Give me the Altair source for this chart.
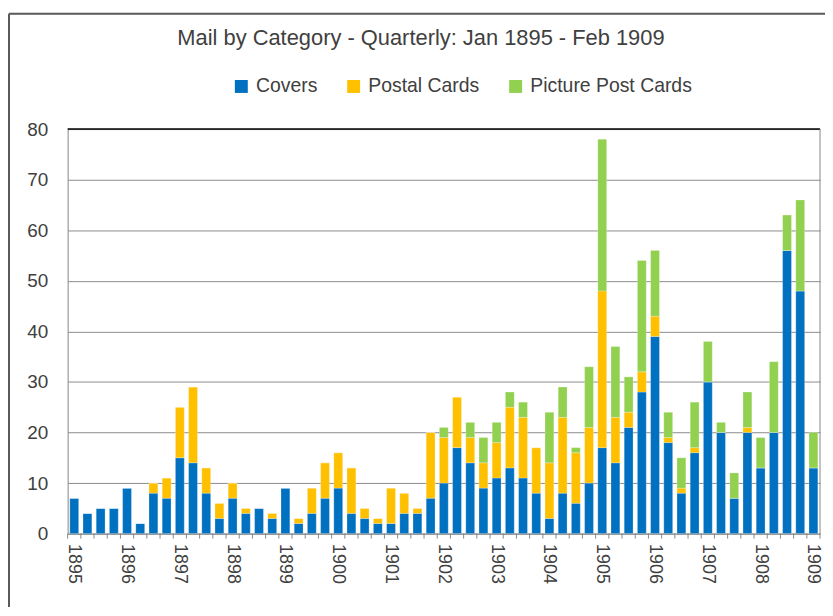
import altair as alt
import pandas as pd

# ---- data (quarterly, Jan 1895 - Q1 1909) ----
years = list(range(1895, 1910))
quarters = ["Q1", "Q2", "Q3", "Q4"]

covers = [7, 4, 5, 5, 9, 2, 8, 7, 15, 14, 8, 3, 7, 4, 5, 3,
          9, 2, 4, 7, 9, 4, 3, 2, 2, 4, 4, 7, 10, 17, 14, 9,
          11, 13, 11, 8, 3, 8, 6, 10, 17, 14, 21, 28, 39, 18, 8, 16,
          30, 20, 7, 20, 13, 20, 56, 48, 13]
postal_cards = [0, 0, 0, 0, 0, 0, 2, 4, 10, 15, 5, 3, 3, 1, 0, 1,
                0, 1, 5, 7, 7, 9, 2, 1, 7, 4, 1, 13, 9, 10, 5, 5,
                7, 12, 12, 9, 11, 15, 10, 11, 31, 9, 3, 4, 4, 1, 1, 1,
                0, 0, 0, 1, 0, 0, 0, 0, 0]
picture_post_cards = [0, 0, 0, 0, 0, 0, 0, 0, 0, 0, 0, 0, 0, 0, 0, 0,
                      0, 0, 0, 0, 0, 0, 0, 0, 0, 0, 0, 0, 2, 0, 3, 5,
                      4, 3, 3, 0, 10, 6, 1, 12, 30, 14, 7, 22, 13, 5, 6, 9,
                      8, 2, 5, 7, 6, 14, 7, 18, 7]

series_names = ["Covers", "Postal Cards", "Picture Post Cards"]
series_colors = ["#0070C0", "#FFC000", "#92D050"]

periods = [f"{y} {q}" for y in years for q in quarters][:len(covers)]

rows = []
for k, (name, vals) in enumerate(zip(series_names, [covers, postal_cards, picture_post_cards])):
    for p, v in zip(periods, vals):
        rows.append({"period": p, "series": name, "amount": v, "ord": k})
df = pd.DataFrame(rows)
period_df = pd.DataFrame({"period": periods})

FONT = "Liberation Sans"
TXT = "#404040"
W, H = 757, 407

x_scale = alt.Scale(paddingInner=0, paddingOuter=0)

bars = alt.Chart(df).mark_bar(width=alt.RelativeBandSize(0.67),
                              stroke="white", strokeWidth=0.4, strokeOpacity=0.6).encode(
    x=alt.X("period:N", sort=periods, scale=x_scale,
            axis=alt.Axis(title=None, labelAngle=90, labelFontSize=18, labelFont=FONT,
                          labelColor=TXT, labelPadding=10, labelOverlap=False,
                          labelExpr="indexof(datum.value, 'Q1') >= 0 ? substring(datum.value, 0, 4) : ''",
                          ticks=False, domainColor="#868686", grid=False)),
    y=alt.Y("amount:Q", stack="zero",
            scale=alt.Scale(domain=[0, 80], nice=False),
            axis=alt.Axis(title=None, values=list(range(0, 81, 10)), labelFontSize=19,
                          labelFont=FONT, labelColor=TXT, labelPadding=20, ticks=False,
                          domainColor="#868686", gridColor="#8c8c8c", grid=True)),
    color=alt.Color("series:N", sort=series_names,
                    scale=alt.Scale(domain=series_names, range=series_colors),
                    legend=alt.Legend(orient="none", legendX=165, legendY=-53,
                                      direction="horizontal", title=None,
                                      symbolType="square", symbolSize=169,
                                      symbolStrokeWidth=0, labelFontSize=19.5,
                                      labelFont=FONT, labelColor=TXT, labelLimit=300,
                                      labelOffset=5, columnPadding=26)),
    order=alt.Order("ord:Q", sort="ascending"),
)

# category-boundary tick marks under the x axis
ticks = alt.Chart(period_df).mark_rule(color="#868686", strokeWidth=1).encode(
    x=alt.X("period:N", sort=periods, scale=x_scale, bandPosition=0),
    y=alt.value(H), y2=alt.value(H + 5))

one = pd.DataFrame({"k": [0]})
top_border = alt.Chart(one).mark_rule(color="black", strokeWidth=1.5).encode(
    x=alt.value(0), x2=alt.value(W), y=alt.value(0))
right_border = alt.Chart(one).mark_rule(color="#868686", strokeWidth=1).encode(
    x=alt.value(W), y=alt.value(0), y2=alt.value(H + 5))
frame_left = alt.Chart(one).mark_rule(color="#595959", strokeWidth=2).encode(
    x=alt.value(-59), y=alt.value(-116), y2=alt.value(H + 80))
frame_top = alt.Chart(one).mark_rule(color="#595959", strokeWidth=2).encode(
    x=alt.value(-59), x2=alt.value(W + 10), y=alt.value(-116))

chart = alt.layer(bars, ticks, top_border, right_border, frame_left, frame_top).properties(
    width=W, height=H,
    title=alt.TitleParams("Mail by Category - Quarterly: Jan 1895 - Feb 1909",
                          font=FONT, fontSize=22, fontWeight="normal", color=TXT,
                          anchor="middle", dx=-23, dy=41),
    autosize=alt.AutoSizeParams(type="none"),
    padding={"left": 60, "top": 120, "right": 5, "bottom": 72},
).configure_view(stroke=None)

chart.save("out.html", embed_options={"renderer": "svg", "actions": False})
